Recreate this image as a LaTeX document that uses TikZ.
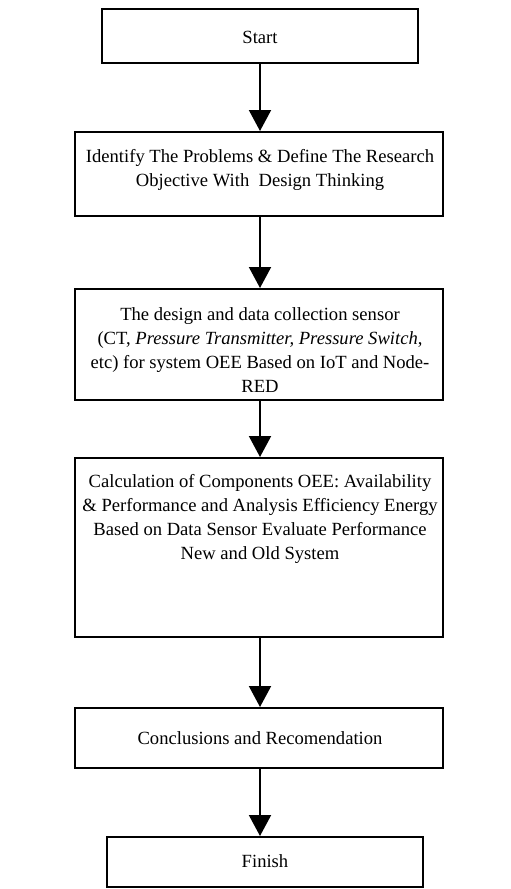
\documentclass[tikz,border=0pt]{standalone}
\usepackage{fontspec}
\setmainfont{Liberation Serif}
\usetikzlibrary{arrows.meta}
\begin{document}
\begin{tikzpicture}[x=1pt,y=-1pt,
  box/.style={draw=black,line width=2pt,rectangle,inner sep=0pt},
  txt/.style={align=center,inner sep=0pt,font=\fontsize{18.6}{24}\selectfont},
  flow/.style={line width=2pt,-{Triangle[width=22pt,length=21pt]}}]
\useasboundingbox (0,0) rectangle (511,889);
\fill[white] (0,0) rectangle (511,889);
% boxes
\node[box,minimum width=316pt,minimum height=54pt] (b1) at (260,36) {};
\node[box,minimum width=368pt,minimum height=84pt] (b2) at (259,174) {};
\node[box,minimum width=368pt,minimum height=111pt] (b3) at (259,344.5) {};
\node[box,minimum width=368pt,minimum height=179pt] (b4) at (259,547.5) {};
\node[box,minimum width=368pt,minimum height=60pt] (b5) at (259,738) {};
\node[box,minimum width=316pt,minimum height=50pt] (b6) at (265,862) {};
% texts
\node[txt] (t1) at (260,37) {Start};
\node[txt] (t2) at (260,170) {Identify The Problems \& Define The Research\\Objective With\ \ Design Thinking};
\node[txt] (t3) at (260,350) {The design and data collection sensor\\(CT, \textit{Pressure Transmitter, Pressure Switch},\\etc) for system OEE Based on IoT and Node-\\RED};
\node[txt] (t4) at (260,519) {Calculation of Components OEE: Availability\\\& Performance and Analysis Efficiency Energy\\Based on Data Sensor Evaluate Performance\\New and Old System};
\node[txt] (t5) at (260,738) {Conclusions and Recomendation};
\node[txt] (t6) at (265,861) {Finish};
% arrows
\draw[flow] (b1.south -| 260,0) -- (b2.north -| 260,0);
\draw[flow] (b2.south -| 260,0) -- (b3.north -| 260,0);
\draw[flow] (b3.south -| 260,0) -- (b4.north -| 260,0);
\draw[flow] (b4.south -| 260,0) -- (b5.north -| 260,0);
\draw[flow] (b5.south -| 260,0) -- (b6.north -| 260,0);
\end{tikzpicture}
\end{document}
